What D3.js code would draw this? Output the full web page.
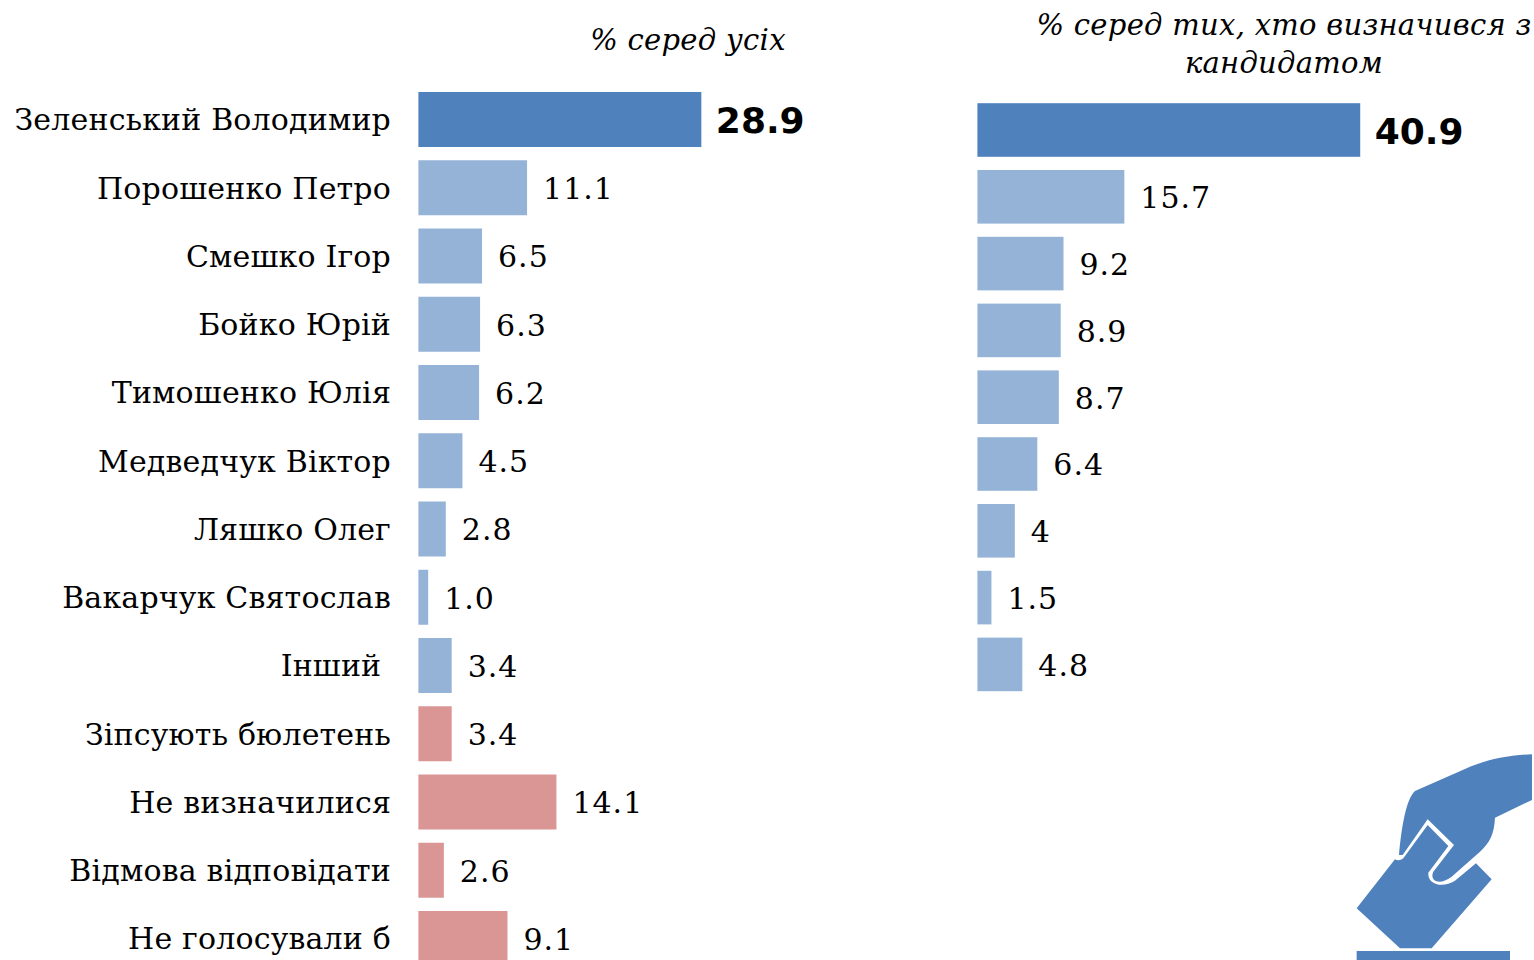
<!DOCTYPE html>
<html lang="uk">
<head>
  <meta charset="utf-8">
  <title>Рейтинг кандидатів</title>
  <style>
    html, body { margin: 0; padding: 0; background: #fff; overflow: hidden; }
    text { font-family: "DejaVu Serif", serif; fill: #000; }
    .cat { font-size: 30px; letter-spacing: 0.18px; text-anchor: end; }
    .val { font-size: 30px; letter-spacing: 1px; }
    .val.top { font-family: "DejaVu Sans", sans-serif; font-weight: bold; font-size: 36px; letter-spacing: 0; }
    .title { font-size: 29px; letter-spacing: 0.28px; font-style: italic; text-anchor: middle; }
  </style>
</head>
<body>
<svg id="chart" width="1534" height="960"></svg>

<script src="https://d3js.org/d3.v7.min.js"></script>
<script>
  // дані
  var categories = ["Зеленський Володимир", "Порошенко Петро", "Смешко Ігор", "Бойко Юрій",
    "Тимошенко Юлія", "Медведчук Віктор", "Ляшко Олег", "Вакарчук Святослав", "Інший\u00a0",
    "Зіпсують бюлетень", "Не визначилися", "Відмова відповідати", "Не голосували б"];
  var labelsAll = ["28.9", "11.1", "6.5", "6.3", "6.2", "4.5", "2.8", "1.0", "3.4", "3.4", "14.1", "2.6", "9.1"];
  var labelsDecided = ["40.9", "15.7", "9.2", "8.9", "8.7", "6.4", "4", "1.5", "4.8"];
  var titleAll = ["% серед усіх"];
  var titleDecided = ["% серед тих, хто визначився з", "кандидатом"];

  var colorTop = "#4f81bd", colorCand = "#95b3d7", colorOther = "#d99694";
  var svg = d3.select("#chart");

  function barColor(i) {
    if (i === 0) return colorTop;
    return i < 9 ? colorCand : colorOther;
  }

  function drawBars(labels, x0, pxPerUnit, yTop, step, barH) {
    var pad = 1 - barH / step;
    var y = d3.scaleBand()
      .domain(d3.range(labels.length))
      .range([yTop - (step - barH) / 2, yTop - (step - barH) / 2 + step * labels.length])
      .paddingInner(pad)
      .paddingOuter(pad / 2);
    var x = d3.scaleLinear().domain([0, 1]).range([x0, x0 + pxPerUnit]);

    var g = svg.append("g");
    g.selectAll("rect").data(labels).enter().append("rect")
      .attr("x", x(0))
      .attr("y", (d, i) => y(i))
      .attr("width", d => x(+d) - x(0))
      .attr("height", y.bandwidth())
      .attr("fill", (d, i) => barColor(i));
    g.selectAll("text").data(labels).enter().append("text")
      .attr("class", (d, i) => i === 0 ? "val top" : "val")
      .attr("x", (d, i) => x(+d) + (i === 0 ? 14.5 : 16))
      .attr("y", (d, i) => y(i) + y.bandwidth() / 2)
      .attr("dy", "0.38em")
      .text(d => d);
    return y;
  }

  var yAll = drawBars(labelsAll, 418.4, 9.79, 92, 68.25, 55);
  drawBars(labelsDecided, 977.4, 9.36, 103.2, 66.8, 53.6);

  // підписи кандидатів
  svg.append("g").selectAll("text").data(categories).enter().append("text")
    .attr("class", "cat")
    .attr("x", 391)
    .attr("y", (d, i) => yAll(i) + yAll.bandwidth() / 2)
    .attr("dy", "0.36em")
    .text(d => d);

  // заголовки
  svg.selectAll(".t1").data(titleAll).enter().append("text")
    .attr("class", "title t1").attr("x", 688).attr("y", 50).text(d => d);
  svg.selectAll(".t2").data(titleDecided).enter().append("text")
    .attr("class", "title t2").attr("x", 1284).attr("y", (d, i) => 35 + i * 38).text(d => d);

  // іконка: рука з бюлетенем
  var icon = svg.append("g").attr("transform", "translate(1340,740) scale(0.3333)").attr("fill", colorTop);
  icon.append("path").attr("d", "M165,358 L50,505 L180,625 L275,625 L455,418 L408,370 L345,422 C310,445 262,435 265,398 L325,318 L263,255 L190,355 C182,362 172,362 165,358 Z");
  icon.append("path").attr("d", "M576,43 C500,45 430,62 380,85 L225,153 C198,178 185,260 177,345 L188,345 L263,238 L342,315 L280,395 C268,420 295,440 335,410 L420,335 C450,308 463,280 465,233 L576,180 Z");
  icon.append("rect").attr("x", 50).attr("y", 633).attr("width", 460).attr("height", 40);
</script>
</body>
</html>
